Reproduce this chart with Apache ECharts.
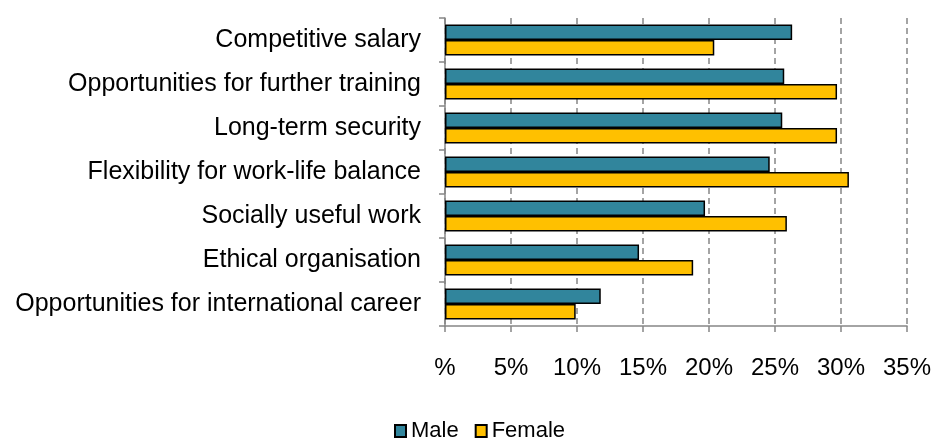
<!DOCTYPE html>
<html>
<head>
<meta charset="utf-8">
<script src="https://cdn.jsdelivr.net/npm/echarts@6/dist/echarts.min.js"></script>
<style>
  html, body { margin: 0; padding: 0; background: #fff; }
  #chart { width: 936px; height: 441px; }
</style>
</head>
<body>
<div id="chart"></div>
<script>
const categories = [
    "Competitive salary",
    "Opportunities for further training",
    "Long-term security",
    "Flexibility for work-life balance",
    "Socially useful work",
    "Ethical organisation",
    "Opportunities for international career"
];
const maleData = [26.3, 25.7, 25.55, 24.6, 19.7, 14.7, 11.8];
const femaleData = [20.4, 29.7, 29.7, 30.6, 25.9, 18.8, 9.9];
const xTicks = [0, 5, 10, 15, 20, 25, 30, 35];

const chart = echarts.init(document.getElementById("chart"));
const font = "Liberation Sans, Arial, sans-serif";
const grey = "#868686";

const option = {
    animation: false,
    textStyle: { fontFamily: font },
    legend: {
        data: ["Male", "Female"],
        top: 415,
        left: 389,
        itemWidth: 11,
        itemHeight: 12,
        itemGap: 16,
        icon: "rect",
        textStyle: { fontSize: 22, color: "#000", fontFamily: font, padding: [4, 0, 0, 0] }
    },
    grid: {
        left: 445,
        right: 29,
        top: 18,
        bottom: 115
    },
    xAxis: {
        type: "value",
        min: 0,
        max: 35,
        interval: 5,
        axisLine: { show: true, lineStyle: { color: grey, width: 1.5 } },
        axisTick: { show: true, length: 6, lineStyle: { color: grey, width: 1.5 } },
        axisLabel: {
            margin: 30,
            fontSize: 24,
            color: "#000",
            formatter: function (v) {
                return xTicks.indexOf(v) === 0 ? "%" : v + "%";
            }
        },
        splitLine: {
            show: true,
            lineStyle: { color: grey, width: 1.5, type: [6, 4] }
        }
    },
    yAxis: {
        type: "category",
        data: categories,
        inverse: true,
        axisLine: { show: true, lineStyle: { color: grey, width: 1.5 } },
        axisTick: { show: true, length: 6, inside: false, lineStyle: { color: grey, width: 1.5 } },
        axisLabel: { margin: 24, fontSize: 25, color: "#000" }
    },
    series: [
        {
            name: "Male",
            type: "bar",
            data: maleData,
            barGap: "0%",
            barCategoryGap: "29%",
            itemStyle: { color: "#31859C", borderColor: "#000", borderWidth: 1.5 }
        },
        {
            name: "Female",
            type: "bar",
            data: femaleData,
            itemStyle: { color: "#FFC000", borderColor: "#000", borderWidth: 1.5 }
        }
    ]
};
chart.setOption(option);
</script>
</body>
</html>
